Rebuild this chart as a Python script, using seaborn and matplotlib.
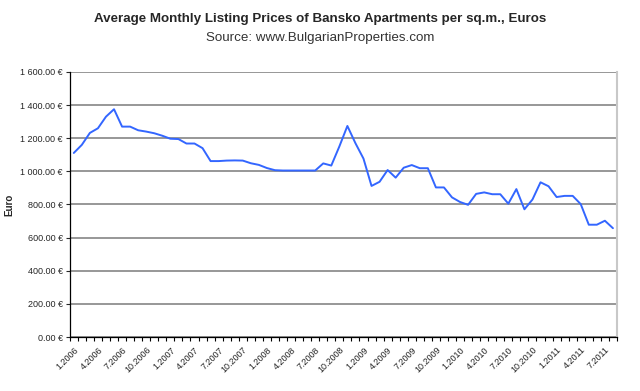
import numpy as np
import pandas as pd
import matplotlib
matplotlib.use("Agg")
import matplotlib.pyplot as plt
import seaborn as sns
from matplotlib.ticker import FuncFormatter, FixedLocator

sns.set_style("white")
plt.rcParams['font.family'] = ['Liberation Sans', 'DejaVu Sans']

# monthly prices, 1.2006 .. 8.2011 (EUR per sq.m.)
prices = [1111, 1160, 1232, 1260, 1330, 1375, 1270, 1270, 1248, 1240,
          1230, 1215, 1197, 1195, 1168, 1168, 1140, 1062, 1062, 1065,
          1066, 1065, 1049, 1039, 1020, 1007, 1005, 1005, 1005, 1005,
          1005, 1048, 1035, 1150, 1274, 1170, 1077, 912, 937, 1008,
          962, 1022, 1038, 1019, 1019, 903, 903, 843, 815, 798,
          864, 873, 862, 862, 805, 893, 771, 830, 934, 910,
          845, 852, 852, 802, 678, 678, 702, 657]

tick_labels = ["1.2006", "4.2006", "7.2006", "10.2006",
               "1.2007", "4.2007", "7.2007", "10.2007",
               "1.2008", "4.2008", "7.2008", "10.2008",
               "1.2009", "4.2009", "7.2009", "10.2009",
               "1.2010", "4.2010", "7.2010", "10.2010",
               "1.2011", "4.2011", "7.2011"]

df = pd.DataFrame({"month": np.arange(len(prices)), "price": prices})

fig = plt.figure(figsize=(6.4, 3.91), dpi=100)
ax = fig.add_axes([0.109, 0.138, 0.855, 0.678])

sns.lineplot(data=df, x="month", y="price", ax=ax, color="#3366ff", linewidth=1.4)

ax.set_xlim(-0.5, len(prices) - 0.5)
ax.set_ylim(0, 1600)
ax.set_yticks(np.arange(0, 1601, 200))
ax.yaxis.set_major_formatter(FuncFormatter(lambda v, p: f"{v:,.2f} €".replace(",", " ")))
ax.grid(axis="y", color="#7a7a7a", linewidth=1.1)

# category boundaries get tick marks, labels sit under every third month
ax.set_xticks(np.arange(0, len(prices), 3)[:len(tick_labels)])
ax.set_xticklabels(tick_labels, rotation=45, ha="right", rotation_mode="anchor", fontsize=6.5)
ax.xaxis.set_minor_locator(FixedLocator(np.arange(-0.5, len(prices), 1)))
ax.tick_params(axis="x", which="major", length=0, pad=6)
ax.tick_params(axis="x", which="minor", length=3, width=0.8, color="black", direction="out", bottom=True)
ax.tick_params(axis="y", length=3, width=0.8, direction="out", left=True, labelsize=6.5, pad=2)

ax.set_xlabel("")
ax.set_ylabel("Euro", fontsize=7, fontweight="bold", labelpad=4)

for s in ["left", "bottom"]:
    ax.spines[s].set_color("black")
    ax.spines[s].set_linewidth(0.9)
ax.spines["right"].set_color("#c8c8c8")
ax.spines["right"].set_linewidth(1.5)
ax.spines["top"].set_visible(False)

fig.text(0.5, 0.951, "Average Monthly Listing Prices of Bansko Apartments per sq.m., Euros",
         ha="center", va="center", fontsize=9.6, fontweight="bold")
fig.text(0.5, 0.904, "Source: www.BulgarianProperties.com",
         ha="center", va="center", fontsize=9.6, color="#333333")

fig.savefig("out.png", dpi=100)
